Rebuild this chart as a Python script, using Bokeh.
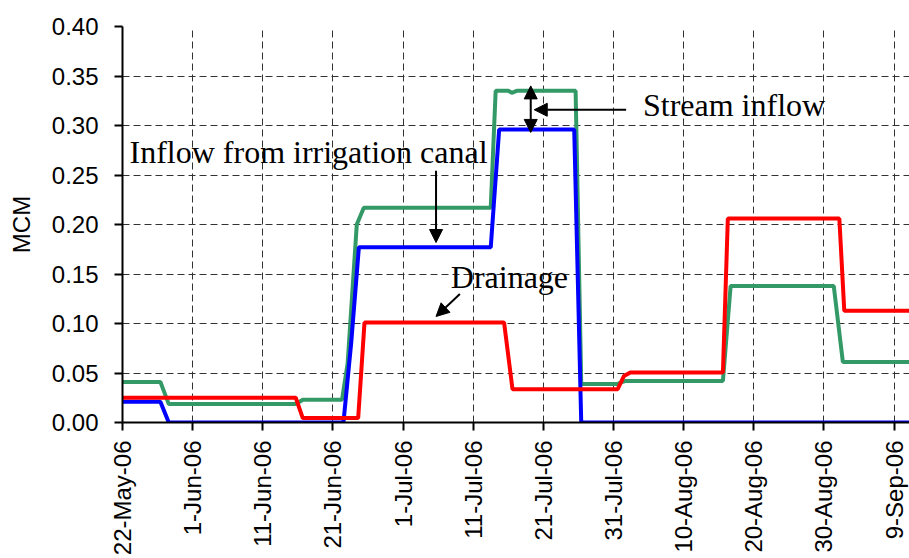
import numpy as np
from bokeh.plotting import figure
from bokeh.models import (FixedTicker, Arrow, NormalHead, Label, Range1d, NumeralTickFormatter)
from bokeh.embed import file_html
from bokeh.resources import INLINE

# x values: days since 22-May-06
tick_days = [0, 10, 20, 30, 40, 50, 60, 70, 80, 90, 100, 110]
tick_labels = ["22-May-06", "1-Jun-06", "11-Jun-06", "21-Jun-06", "1-Jul-06", "11-Jul-06",
               "21-Jul-06", "31-Jul-06", "10-Aug-06", "20-Aug-06", "30-Aug-06", "9-Sep-06"]
y_ticks = [0.0, 0.05, 0.10, 0.15, 0.20, 0.25, 0.30, 0.35, 0.40]

# Total (stream + irrigation) inflow, green
total_days = [0, 5.4, 6.6, 24.7, 25.7, 31.3, 32.1, 33.4, 34.4, 52.5, 53.2, 55.0, 55.5, 56.2,
              64.6, 65.4, 70.6, 71.3, 71.8, 85.6, 86.7, 101.4, 102.7, 113]
total_mcm = [0.041, 0.041, 0.0186, 0.0186, 0.023, 0.023, 0.06, 0.200, 0.217, 0.217, 0.335, 0.335,
             0.333, 0.335, 0.335, 0.039, 0.039, 0.041, 0.042, 0.042, 0.138, 0.138, 0.061, 0.061]

# Inflow from irrigation canal, blue
canal_days = [0, 5.4, 6.6, 31.5, 32.6, 33.7, 52.5, 53.7, 64.4, 65.4, 113]
canal_mcm = [0.021, 0.021, 0.0, 0.0, 0.08, 0.177, 0.177, 0.296, 0.296, 0.0, 0.0]

# Drainage, red
drain_days = [0, 24.7, 25.7, 33.6, 34.5, 54.4, 55.6, 70.6, 71.5, 72.4, 85.6, 86.3,
              102.2, 102.9, 113]
drain_mcm = [0.025, 0.025, 0.0045, 0.0045, 0.101, 0.101, 0.0337, 0.0337, 0.047, 0.0505,
             0.0505, 0.206, 0.206, 0.1128, 0.1128]

p = figure(width=909, height=558, output_backend="svg", toolbar_location=None,
           x_range=Range1d(0, 112.2), y_range=Range1d(0, 0.40),
           min_border_left=122, min_border_right=0, min_border_top=26, min_border_bottom=136)
p.outline_line_color = None
p.background_fill_color = "white"

p.line(total_days, total_mcm, line_color="#339966", line_width=4)
p.line(canal_days, canal_mcm, line_color="#0000ff", line_width=4)
p.line(drain_days, drain_mcm, line_color="#ff0000", line_width=4)

for ax in (p.xaxis[0], p.yaxis[0]):
    ax.axis_line_color = "black"
    ax.axis_line_width = 2
    ax.major_tick_line_color = "black"
    ax.major_tick_line_width = 2
    ax.major_tick_out = 8
    ax.major_tick_in = 0
    ax.minor_tick_line_color = None
    ax.major_label_text_font = "Liberation Sans"
    ax.major_label_text_font_size = "24px"
    ax.major_label_text_color = "black"

p.xaxis.ticker = FixedTicker(ticks=tick_days)
p.xaxis.major_label_overrides = {d: l for d, l in zip(tick_days, tick_labels)}
p.xaxis.major_label_orientation = np.pi / 2
p.xaxis.major_label_standoff = 10

p.yaxis.ticker = FixedTicker(ticks=y_ticks)
p.yaxis.formatter = NumeralTickFormatter(format="0.00")
p.yaxis.major_label_standoff = 16
p.yaxis.axis_label = "MCM"
p.yaxis.axis_label_text_font = "Liberation Sans"
p.yaxis.axis_label_text_font_size = "24px"
p.yaxis.axis_label_text_font_style = "normal"
p.yaxis.axis_label_text_color = "black"
p.yaxis.axis_label_standoff = 14

for g in (p.xgrid[0], p.ygrid[0]):
    g.grid_line_color = "#333333"
    g.grid_line_width = 1
    g.grid_line_dash = "7 4"
p.xgrid.ticker = FixedTicker(ticks=tick_days)
p.ygrid.ticker = FixedTicker(ticks=y_ticks)

# annotations
serif = "Liberation Serif"
for txt, x, y in [("Inflow from irrigation canal", 1.0, 0.273),
                  ("Stream inflow", 74.2, 0.3208),
                  ("Drainage", 46.8, 0.1474)]:
    p.add_layout(Label(x=x, y=y, text=txt, text_font=serif, text_font_size="32px",
                       text_color="black", text_baseline="alphabetic", text_align="left"))

def head():
    return NormalHead(size=13, fill_color="black", line_color="black", line_width=1)

p.add_layout(Arrow(end=head(), x_start=44.7, y_start=0.2542, x_end=44.7, y_end=0.1818,
                   line_width=2, line_color="black"))
p.add_layout(Arrow(start=head(), end=head(), x_start=58.2, y_start=0.293, x_end=58.2, y_end=0.340,
                   line_width=2, line_color="black"))
p.add_layout(Arrow(end=head(), x_start=71.8, y_start=0.3159, x_end=58.7, y_end=0.3159,
                   line_width=2, line_color="black"))
p.add_layout(Arrow(end=head(), x_start=48.1, y_start=0.1297, x_end=44.7, y_end=0.1071,
                   line_width=2, line_color="black"))

open("out.html", "w").write(file_html(p, INLINE))
